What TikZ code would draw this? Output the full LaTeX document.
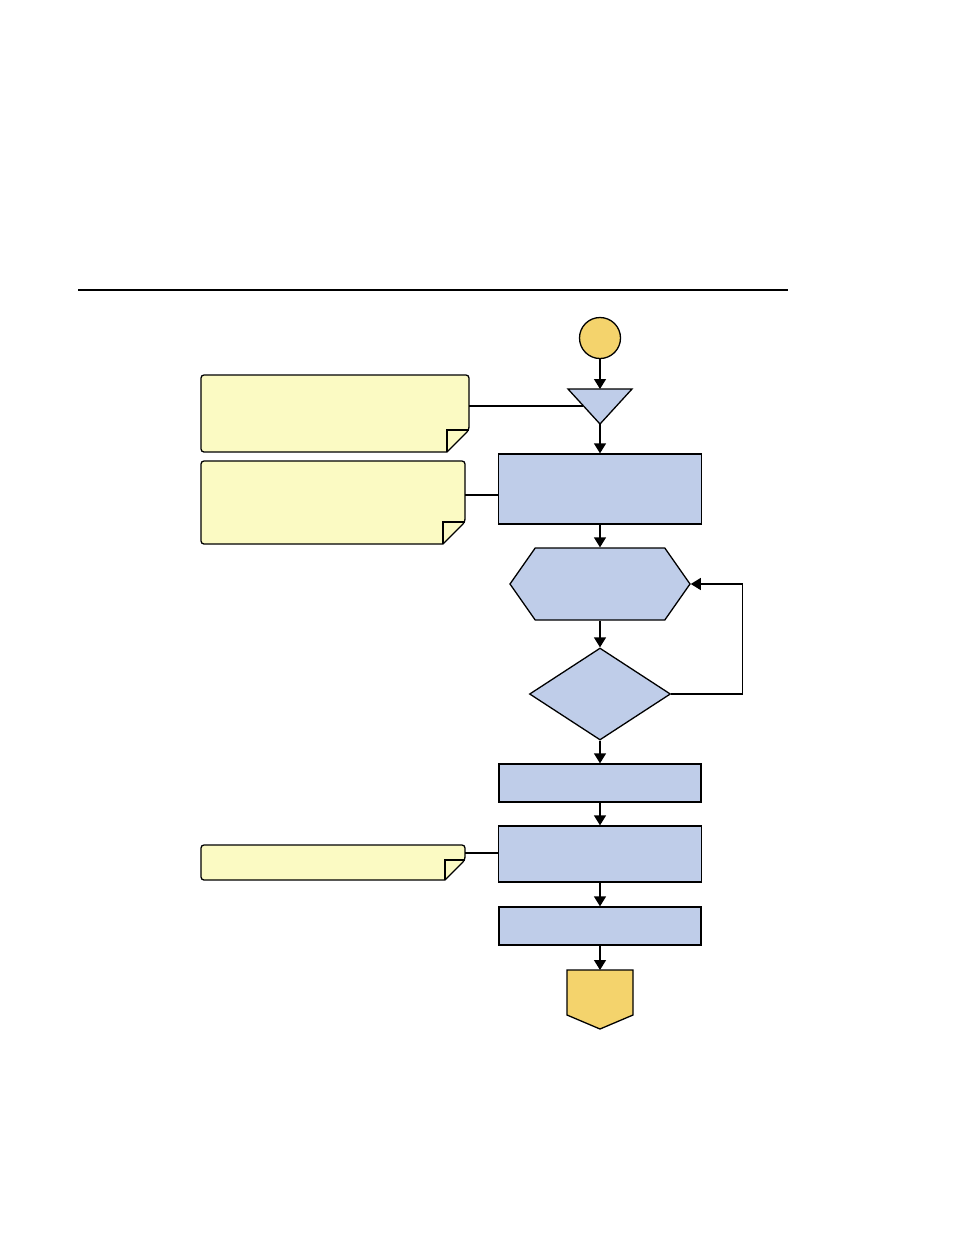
\documentclass[tikz,border=0pt]{standalone}
\usepackage{xcolor}
\usepackage{tikz}
\usetikzlibrary{arrows.meta,calc,positioning,shapes.geometric,shapes.symbols}
\definecolor{flow}{RGB}{191,205,233}
\definecolor{memo}{RGB}{251,250,195}
\definecolor{gold}{RGB}{244,211,108}

\begin{document}
\begin{tikzpicture}[x=1pt,y=-1pt,
  arr/.style={-{Triangle[length=10pt,width=12pt]},line width=1.3pt},
  proc/.style={draw,line width=1.3pt,fill=flow,minimum width=203pt,inner sep=0pt},
  note/.style={draw,line width=1.3pt,fill=memo}]
  \useasboundingbox (0,0) rectangle (954,1235);
  \draw[line width=1.2pt] (78,290) -- (788,290);
  % main flow
  \node[circle,draw,line width=1.3pt,fill=gold,minimum size=41pt,inner sep=0pt] (start) at (600,338) {};
  \draw[line width=1.3pt,fill=flow] (568,389) -- (632,389) -- (600,424) -- cycle;
  \coordinate (mrgT) at (600,389); \coordinate (mrgB) at (600,424); \coordinate (mrgL) at (583,406);
  \node[proc,minimum height=70pt] (prep) at (600,489) {};
  \node[signal,signal to=east and west,signal pointer angle=110,draw,line width=1.3pt,fill=flow,
        minimum width=180pt,minimum height=72pt,inner sep=0pt] (body) at (600,584) {};
  \node[diamond,draw,line width=1.3pt,fill=flow,aspect=1.53,minimum width=141pt,minimum height=92pt,inner sep=0pt] (test) at (600,694) {};
  \node[proc,minimum width=202pt,minimum height=38pt] (stepA) at (600,783) {};
  \node[proc,minimum height=56pt] (stepB) at (600,854) {};
  \node[proc,minimum width=202pt,minimum height=38pt] (stepC) at (600,926) {};
  \draw[line width=1.3pt,fill=gold] (567,970) -- (633,970) -- (633,1015) -- (600,1029) -- (567,1015) -- cycle;
  \coordinate (offT) at (600,970);
  \foreach \a/\b in {start/mrgT, mrgB/prep, prep/body, body/test, test/stepA, stepA/stepB, stepB/stepC, stepC/offT}
    \draw[arr] (\a) -- (\b);
  \draw[arr] (test.east) -- ++(71,0) |- (body.east);
  % notes with folded corner
  \foreach \nm/\l/\t/\r/\b/\f/\c in {memoA/201/375/469/452/22/406, memoB/201/461/465/544/22/495, memoC/201/845/465/880/20/853} {
    \draw[note] (\l,\t) [rounded corners=3pt] -- (\r,\t) -- (\r,\b-\f) [sharp corners] -- (\r-\f,\b) [rounded corners=3pt] -- (\l,\b) -- cycle;
    \draw[line width=1.3pt] (\r-\f,\b) -- (\r-\f,\b-\f) -- (\r,\b-\f);
    \coordinate (\nm) at (\r,\c);
  }
  \draw[line width=1.3pt] (memoA) -- (mrgL);
  \draw[line width=1.3pt] (memoB) -- (memoB -| prep.west);
  \draw[line width=1.3pt] (memoC) -- (memoC -| stepB.west);
\end{tikzpicture}
\end{document}
